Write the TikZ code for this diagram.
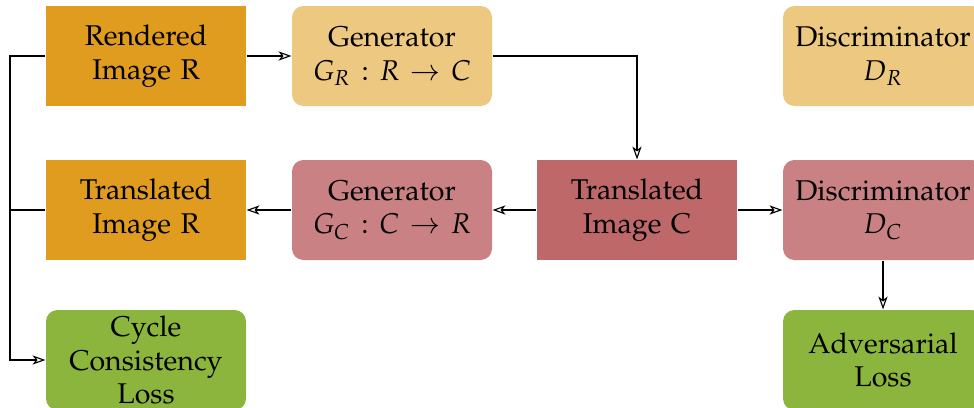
\documentclass[tikz,border=0pt]{standalone}
\usepackage[T1]{fontenc}
\usepackage{mathpazo}
\usetikzlibrary{arrows.meta}

\definecolor{rendorange}{RGB}{224,156,30}
\definecolor{genorange}{RGB}{236,200,128}
\definecolor{genred}{RGB}{201,129,131}
\definecolor{transred}{RGB}{190,104,106}
\definecolor{lossgreen}{RGB}{139,181,60}

\tikzset{basic/.style={fill=#1,text width=68pt,align=center,minimum width=70pt,minimum height=35pt,inner sep=0pt,font=\fontsize{10}{11.8}\selectfont}}
\tikzset{image/.style={basic=#1}}
\tikzset{net/.style={basic=#1,rounded corners=4pt}}

\begin{document}
\begin{tikzpicture}[x=0.35pt, y=-0.35pt, >={Stealth[open,length=4.5pt,width=3.2pt,inset=1.2pt]}]
	\useasboundingbox (0,0) rectangle (974,407);
	
	% images
	\node [image=rendorange] (img-R) at (146,56) {Rendered\\Image R};
	\node [image=rendorange] (trans-R) at (146,210) {Translated\\Image R};
	\node [image=transred] (trans-C) at (637,210) {Translated\\Image C};
	
	% generators and discriminators
	\node [net=genorange] (gen-R) at (392,56) {Generator\\$G_R : R \rightarrow C$};
	\node [net=genorange] (disc-R) at (883,56) {Discriminator\\$D_R$};
	\node [net=genred] (gen-C) at (392,210) {Generator\\$G_C : C \rightarrow R$};
	\node [net=genred] (disc-C) at (883,210) {Discriminator\\$D_C$};
	
	% losses
	\node [net=lossgreen] (cycle) at (146,360) {Cycle\\Consistency\\Loss};
	\node [net=lossgreen] (adv) at (883,360) {Adversarial\\Loss};
	
	% forward path
	\draw [->] (img-R) -- (gen-R);
	\draw [->] (gen-R.east) -| (trans-C.north);
	\draw [->] (trans-C) -- (gen-C);
	\draw [->] (gen-C) -- (trans-R);
	\draw [->] (trans-C) -- (disc-C);
	\draw [->] (disc-C) -- (adv);
	
	% cycle loss rail
	\coordinate (rail) at (10,210);
	\draw (trans-R.west) -- (rail);
	\draw [->] (img-R.west) -| (rail) |- (cycle.west);
	
\end{tikzpicture}
\end{document}
